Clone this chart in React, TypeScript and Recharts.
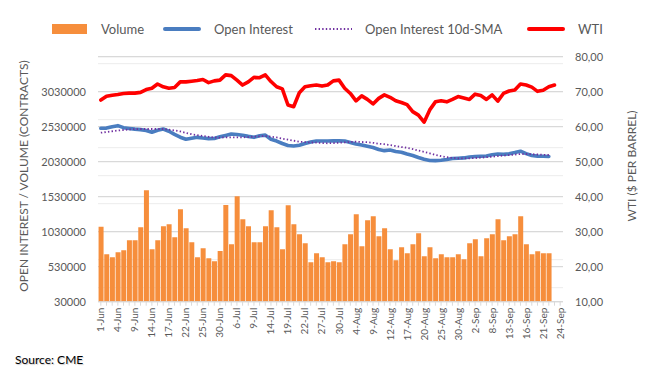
import React from 'react';
import { ComposedChart, Bar, Line, XAxis, YAxis, CartesianGrid } from 'recharts';

const dates = [
  '1-Jun', '2-Jun', '3-Jun', '4-Jun', '7-Jun', '8-Jun', '9-Jun', '10-Jun', '11-Jun', '14-Jun',
  '15-Jun', '16-Jun', '17-Jun', '18-Jun', '21-Jun', '22-Jun', '23-Jun', '24-Jun', '25-Jun', '28-Jun',
  '29-Jun', '30-Jun', '1-Jul', '2-Jul', '6-Jul', '7-Jul', '8-Jul', '9-Jul', '12-Jul', '13-Jul',
  '14-Jul', '15-Jul', '16-Jul', '19-Jul', '20-Jul', '21-Jul', '22-Jul', '23-Jul', '26-Jul', '27-Jul',
  '28-Jul', '29-Jul', '30-Jul', '2-Aug', '3-Aug', '4-Aug', '5-Aug', '6-Aug', '9-Aug', '10-Aug',
  '11-Aug', '12-Aug', '13-Aug', '16-Aug', '17-Aug', '18-Aug', '19-Aug', '20-Aug', '23-Aug', '24-Aug',
  '25-Aug', '26-Aug', '27-Aug', '30-Aug', '31-Aug', '1-Sep', '2-Sep', '3-Sep', '7-Sep', '8-Sep',
  '9-Sep', '10-Sep', '13-Sep', '14-Sep', '15-Sep', '16-Sep', '17-Sep', '20-Sep', '21-Sep', '22-Sep',
  '23-Sep', '24-Sep',
];

const volume = [
  1101000, 707000, 664000, 736000, 764000, 907000, 907000, 1093000, 1621000, 779000,
  907000, 1107000, 1136000, 950000, 1350000, 1079000, 879000, 664000, 793000, 650000,
  607000, 754000, 1411000, 850000, 1536000, 1207000, 1107000, 879000, 879000, 1107000,
  1336000, 1093000, 779000, 1407000, 1136000, 993000, 864000, 593000, 721000, 664000,
  593000, 607000, 593000, 850000, 993000, 1279000, 821000, 1193000, 1250000, 964000,
  1079000, 779000, 621000, 807000, 721000, 850000, 1007000, 679000, 807000, 650000,
  707000, 664000, 664000, 707000, 636000, 864000, 921000, 679000, 936000, 993000,
  1207000, 907000, 964000, 993000, 1250000, 850000, 707000, 750000, 721000, 721000,
];

const openInterest = [
  2507000, 2510000, 2530000, 2545000, 2516000, 2505000, 2495000, 2488000, 2475000, 2450000,
  2480000, 2497000, 2465000, 2420000, 2380000, 2350000, 2365000, 2378000, 2368000, 2360000,
  2362000, 2385000, 2405000, 2425000, 2418000, 2408000, 2392000, 2378000, 2400000, 2410000,
  2350000, 2325000, 2290000, 2262000, 2255000, 2265000, 2290000, 2312000, 2326000, 2326000,
  2326000, 2327000, 2327000, 2325000, 2305000, 2283000, 2268000, 2250000, 2232000, 2205000,
  2188000, 2197000, 2175000, 2165000, 2140000, 2118000, 2090000, 2065000, 2048000, 2045000,
  2050000, 2062000, 2076000, 2080000, 2084000, 2098000, 2104000, 2108000, 2112000, 2130000,
  2140000, 2137000, 2142000, 2160000, 2180000, 2145000, 2118000, 2110000, 2108000, 2105000,
];

const oiSma = [
  2444000, 2455000, 2465000, 2475000, 2483000, 2490000, 2496000, 2497000, 2497000, 2497000,
  2497000, 2497000, 2488000, 2477000, 2462000, 2442000, 2422000, 2410000, 2398000, 2386000,
  2376000, 2375000, 2377000, 2378000, 2378000, 2378000, 2382000, 2386000, 2392000, 2397000,
  2388000, 2377000, 2360000, 2345000, 2330000, 2315000, 2310000, 2305000, 2302000, 2297000,
  2293000, 2296000, 2300000, 2305000, 2312000, 2316000, 2312000, 2308000, 2300000, 2287000,
  2280000, 2267000, 2254000, 2240000, 2228000, 2210000, 2190000, 2170000, 2150000, 2128000,
  2110000, 2094000, 2085000, 2079000, 2078000, 2078000, 2082000, 2088000, 2094000, 2102000,
  2110000, 2117000, 2124000, 2132000, 2139000, 2140000, 2137000, 2133000, 2129000, 2126000,
];

const wti = [
  67.6, 68.7, 69.0, 69.2, 69.5, 69.6, 69.6, 69.8, 70.6, 71.0,
  72.2, 71.4, 71.0, 71.2, 72.8, 72.8, 73.0, 73.2, 73.5, 72.6,
  73.1, 73.3, 74.8, 74.6, 73.3, 71.9, 72.8, 74.1, 74.0, 74.8,
  72.9, 71.4, 70.8, 66.2, 65.7, 69.7, 71.4, 71.7, 71.9, 71.6,
  71.9, 73.1, 73.3, 71.0, 69.5, 67.4, 68.8, 67.8, 66.5, 68.1,
  69.1, 68.4, 67.4, 66.9, 66.3, 64.3, 63.3, 61.3, 64.8, 67.1,
  67.4, 67.1, 67.8, 68.6, 68.2, 67.8, 69.3, 68.9, 67.8, 69.1,
  67.3, 69.5, 70.2, 70.5, 72.2, 71.9, 71.3, 70.1, 70.4, 71.4,
  71.9,
];

const leftTicks = [30000, 530000, 1030000, 1530000, 2030000, 2530000, 3030000];
const rightTicks = [10, 20, 30, 40, 50, 60, 70, 80];
const minorTicks = Array.from({ length: 34 }, (_, k) => 130000 + k * 100000);

const data = dates.map((d, i) => ({
  date: d,
  volume: volume[i] ?? null,
  oi: openInterest[i] ?? null,
  sma: oiSma[i] ?? null,
  wti: wti[i] ?? null,
}));

const FONT = 'Lato, "Open Sans", sans-serif';
const TXT = '#595959';
const LEG_Y = 29;

const XTick = (props: any) => {
  const { x, y, index, payload } = props;
  if (index % 3 !== 0) return null;
  return (
    <text
      transform={`translate(${x},${y}) rotate(-90)`}
      textAnchor="end"
      dy="0.35em"
      fontSize={10}
      fontFamily={FONT}
      fill={TXT}
    >
      {payload.value}
    </text>
  );
};

const LeftTick = (props: any) => {
  const { x, y, payload } = props;
  return (
    <text x={x} y={y} textAnchor="end" dy="0.35em" fontSize={11} fontFamily={FONT} fill={TXT}>
      {payload.value}
    </text>
  );
};

const RightTick = (props: any) => {
  const { x, y, payload } = props;
  return (
    <text x={x} y={y} textAnchor="start" dy="0.35em" fontSize={11} fontFamily={FONT} fill={TXT}>
      {Number(payload.value).toFixed(2).replace('.', ',')}
    </text>
  );
};

const legendText: React.CSSProperties = {
  position: 'absolute',
  top: LEG_Y,
  transform: 'translateY(-50%)',
  fontFamily: FONT,
  fontSize: 13,
  color: TXT,
  whiteSpace: 'nowrap',
  lineHeight: '16px',
};

export default function App() {
  return (
    <div style={{ position: 'absolute', left: 0, top: 0, width: 658, height: 384, background: '#fff' }}>
      <ComposedChart
        width={658}
        height={384}
        data={data}
        margin={{ top: 56.7, right: 0, bottom: 0, left: 0 }}
      >
        <CartesianGrid yAxisId="minor" vertical={false} stroke="#ececec" strokeWidth={1} />
        <CartesianGrid yAxisId="left" vertical={false} stroke="#d9d9d9" strokeWidth={1.3} />
        <XAxis
          dataKey="date"
          interval={0}
          height={82.3}
          axisLine={{ stroke: '#d9d9d9' }}
          tickLine={{ stroke: '#d9d9d9' }}
          tickSize={4}
          tickMargin={2}
          tick={<XTick />}
        />
        <YAxis
          yAxisId="left"
          orientation="left"
          width={98}
          domain={[30000, 3530000]}
          ticks={leftTicks}
          allowDataOverflow
          axisLine={false}
          tickLine={false}
          tickSize={0}
          tickMargin={12}
          tick={<LeftTick />}
          label={{
            content: () => (
              <text
                transform="translate(24,176) rotate(-90)"
                textAnchor="middle"
                dy="0.35em"
                fontSize={12}
                fontFamily={FONT}
                fill={TXT}
              >
                OPEN INTEREST / VOLUME (CONTRACTS)
              </text>
            ),
          }}
        />
        <YAxis yAxisId="minor" hide domain={[30000, 3530000]} ticks={minorTicks} allowDataOverflow />
        <YAxis
          yAxisId="right"
          orientation="right"
          width={95}
          domain={[10, 80]}
          ticks={rightTicks}
          allowDataOverflow
          axisLine={false}
          tickLine={false}
          tickSize={0}
          tickMargin={12}
          tick={<RightTick />}
          label={{
            content: () => (
              <text
                transform="translate(632,166) rotate(-90)"
                textAnchor="middle"
                dy="0.35em"
                fontSize={12}
                fontFamily={FONT}
                fill={TXT}
              >
                WTI ($ PER BARREL)
              </text>
            ),
          }}
        />
        <Bar yAxisId="left" dataKey="volume" fill="#f68e3c" barCategoryGap="12%" isAnimationActive={false} />
        <Line
          yAxisId="left"
          dataKey="oi"
          stroke="#4a7dc0"
          strokeWidth={3.6}
          strokeLinecap="round"
          strokeLinejoin="round"
          dot={false}
          activeDot={false}
          isAnimationActive={false}
        />
        <Line
          yAxisId="left"
          dataKey="sma"
          stroke="#7030a0"
          strokeWidth={1.8}
          strokeDasharray="1.4 2.2"
          dot={false}
          activeDot={false}
          isAnimationActive={false}
        />
        <Line
          yAxisId="right"
          dataKey="wti"
          stroke="#ff0000"
          strokeWidth={3.6}
          strokeLinecap="round"
          strokeLinejoin="round"
          dot={false}
          activeDot={false}
          isAnimationActive={false}
        />
      </ComposedChart>

      <div style={{ position: 'absolute', left: 52, top: LEG_Y - 4.75, width: 35, height: 9.5, background: '#f68e3c' }} />
      <div style={{ ...legendText, left: 101 }}>Volume</div>
      <div style={{ position: 'absolute', left: 163, top: LEG_Y - 2, width: 38, height: 4, borderRadius: 2, background: '#4a7dc0' }} />
      <div style={{ ...legendText, left: 214 }}>Open Interest</div>
      <svg style={{ position: 'absolute', left: 315, top: LEG_Y - 4 }} width={37} height={8}>
        <line x1={0} y1={4} x2={37} y2={4} stroke="#7030a0" strokeWidth={1.8} strokeDasharray="1.4 2.2" />
      </svg>
      <div style={{ ...legendText, left: 365 }}>Open Interest 10d-SMA</div>
      <div style={{ position: 'absolute', left: 527, top: LEG_Y - 2, width: 38, height: 4, borderRadius: 2, background: '#ff0000' }} />
      <div style={{ ...legendText, left: 578 }}>WTI</div>

      <div
        style={{
          position: 'absolute',
          left: 15,
          top: 352,
          fontFamily: FONT,
          fontSize: 12,
          color: '#000',
          textShadow: '1px 1px 1px rgba(0,0,0,0.2)',
          whiteSpace: 'nowrap',
        }}
      >
        Source: CME
      </div>
    </div>
  );
}
